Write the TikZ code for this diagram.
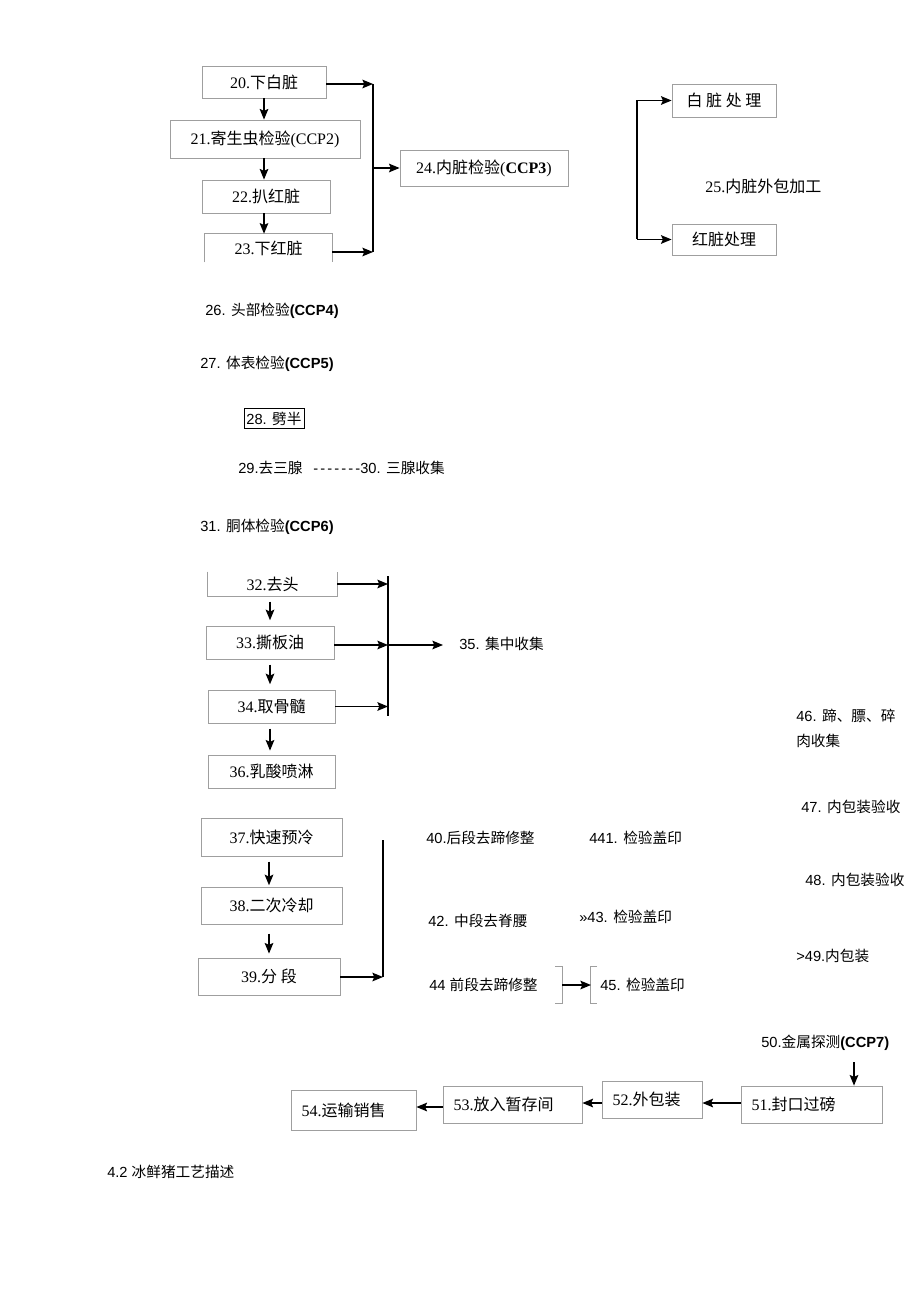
\documentclass[tikz,border=0pt]{standalone}
\usepackage{fontspec}
\setmainfont{Liberation Serif}
\newfontfamily\cjk{Noto Sans CJK SC}
\newfontfamily\lsans{Liberation Sans}
\newcommand\zh[1]{{\cjk #1}}
\newcommand\dsh{-\kern1.6pt}
\usetikzlibrary{arrows.meta}
\begin{document}
\begin{tikzpicture}[x=0.75pt,y=-0.75pt,
  bx/.style={draw=gray!75, line width=0.6pt, inner sep=0pt, font=\fontsize{12}{14}\selectfont},
  bxn/.style={inner sep=0pt, font=\fontsize{12}{14}\selectfont},
  bxl/.style={draw=gray!75, line width=0.6pt, inner xsep=8pt, inner ysep=0pt, align=left, font=\fontsize{12}{14}\selectfont},
  lab/.style={font=\lsans\fontsize{11}{13}\selectfont, inner sep=0pt, anchor=west},
  slab/.style={font=\fontsize{12}{14}\selectfont, inner sep=0pt, anchor=west},
  arr/.style={-{Stealth[length=8pt,width=6.5pt,inset=1.5pt]}, line width=1.1pt},
  ln/.style={line width=1.1pt},
  open/.style={draw=gray!75, line width=0.6pt}]
\useasboundingbox[fill=white] (0,0) rectangle (920,1301);

% ---- group 20-24
\node[bx, minimum width=93pt, minimum height=24pt] (b20) at (264,82) {20.\zh{下白脏}};
\node[bx, minimum width=142.5pt, minimum height=28.5pt] (b21) at (265,139) {21.\zh{寄生虫检验}(CCP2)};
\node[bx, minimum width=96pt, minimum height=24.75pt] (b22) at (266,196.5) {22.\zh{扒红脏}};
\node[bxn, minimum width=95.25pt, minimum height=21pt] (b23) at (268.5,248) {23.\zh{下红脏}};
\draw[open] (b23.south west) -- (b23.north west) -- (b23.north east) -- (b23.south east);
\node[bx, minimum width=126pt, minimum height=27pt] (b24) at (484,168) {24.\zh{内脏检验}(\textbf{CCP3})};

\draw[arr] (b20.south) -- (b20.south |- b21.north);
\draw[arr] (b21.south -| b20.south) -- (b20.south |- b22.north);
\draw[arr] (b22.south -| b20.south) -- (b20.south |- b23.north);

\coordinate (j1t) at (373,84);
\coordinate (j1b) at (373,252);
\coordinate (j1m) at (373,168);
\draw[ln] (j1t) -- (j1b);
\draw[arr] (b20.east |- j1t) -- (j1t);
\draw[arr] (b23.east |- j1b) -- (j1b);
\draw[arr] (j1m) -- (b24.west);

% ---- group 25
\node[bx, minimum width=78pt, minimum height=24.75pt] (bw) at (724,100.5) {\zh{白 脏 处 理}};
\node[bx, minimum width=78pt, minimum height=23.25pt] (br) at (724,239.5) {\zh{红脏处理}};
\coordinate (k1) at (637,100.5);
\coordinate (k2) at (637,239.5);
\draw[ln] (k1) -- (k2);
\draw[arr] (k1) -- (bw.west);
\draw[arr] (k2) -- (br.west);
\node[slab] (n25) at (705,186) {25.\zh{内脏外包加工}};

% ---- labels 26-31
\node[lab] (n26) at (205,311) {26. \zh{头部检验}\textbf{(CCP4)}};
\node[lab] (n27) at (200,364) {27. \zh{体表检验}\textbf{(CCP5)}};
\node[draw=black, line width=0.5pt, inner sep=0pt, minimum width=45pt, minimum height=15pt, font=\lsans\fontsize{11}{13}\selectfont] (n28) at (274,418.5) {28. \zh{劈半}};
\node[lab] (n29) at (238,468) {29.\zh{去三腺}\hspace{8pt}\dsh\dsh\dsh\dsh\dsh\dsh-30. \zh{三腺收集}};
\node[lab] (n31) at (200,527) {31. \zh{胴体检验}\textbf{(CCP6)}};

% ---- group 32-36
\node[bxn, minimum width=96.75pt, minimum height=18pt] (b32) at (272.5,584) {32.\zh{去头}};
\draw[open] (b32.north west) -- (b32.south west) -- (b32.south east) -- (b32.north east);
\node[bx, minimum width=96pt, minimum height=24.75pt] (b33) at (270,642.5) {33.\zh{撕板油}};
\node[bx, minimum width=95.25pt, minimum height=24.75pt] (b34) at (271.5,706.5) {34.\zh{取骨髓}};
\node[bx, minimum width=95.25pt, minimum height=24.75pt] (b36) at (271.5,771.5) {36.\zh{乳酸喷淋}};
\coordinate (a32) at (270,584);
\draw[arr, shorten <=4pt, shorten >=4pt] (a32 |- b32.south) -- (a32 |- b33.north);
\draw[arr, shorten <=4pt, shorten >=4pt] (a32 |- b33.south) -- (a32 |- b34.north);
\draw[arr, shorten <=4pt, shorten >=3pt] (a32 |- b34.south) -- (a32 |- b36.north);

\coordinate (j2t) at (388,576);
\coordinate (j2b) at (388,716);
\coordinate (j2m) at (388,645);
\draw[ln] (j2t) -- (j2b);
\draw[arr] (b32.east) -- (b32.east -| j2t);
\draw[arr] (b33.east |- j2m) -- (j2m);
\draw[arr] (b34.east) -- (b34.east -| j2t);
\node[lab] (n35) at (459,644) {35. \zh{集中收集}};
\coordinate (e35) at (443,645);
\draw[arr] (j2m) -- (e35);

% ---- group 37-39
\node[bx, minimum width=105.75pt, minimum height=28.5pt] (b37) at (271.5,837) {37.\zh{快速预冷}};
\node[bx, minimum width=105.75pt, minimum height=27.75pt] (b38) at (271.5,905.5) {38.\zh{二次冷却}};
\node[bx, minimum width=106.5pt, minimum height=27.75pt] (b39) at (269,976.5) {39.\zh{分 段}};
\coordinate (a37) at (269,837);
\draw[arr, shorten <=4pt, shorten >=1pt] (a37 |- b37.south) -- (a37 |- b38.north);
\draw[arr, shorten <=7pt, shorten >=3pt] (a37 |- b38.south) -- (a37 |- b39.north);
\coordinate (j3t) at (383,840);
\coordinate (j3b) at (383,977);
\draw[ln] (j3t) -- (j3b);
\draw[arr] (b39.east |- j3b) -- (j3b);

% ---- labels 40-45
\node[lab] (n40) at (426,838) {40.\zh{后段去蹄修整}};
\node[lab] (n41) at (589,838) {441. \zh{检验盖印}};
\node[lab] (n42) at (428,921) {42. \zh{中段去脊腰}};
\node[lab] (n43) at (579,917) {»43. \zh{检验盖印}};
\node[lab] (n44) at (429,985) {44 \zh{前段去蹄修整}};
\node[lab] (n45) at (600,985) {45. \zh{检验盖印}};
\coordinate (q1) at (562,985);
\coordinate (q2) at (591,985);
\draw[gray!75, line width=0.7pt] (555,966) -- (562,966) -- (562,1003) -- (555,1003);
\draw[gray!75, line width=0.7pt] (597,966) -- (590,966) -- (590,1003) -- (597,1003);
\draw[arr] (q1) -- (q2);

% ---- labels 46-49
\node[lab] (n46a) at (796,716) {46. \zh{蹄、膘、碎}};
\node[lab] (n46b) at (796,741) {\zh{肉收集}};
\node[lab] (n47) at (801,807) {47. \zh{内包装验收}};
\node[lab] (n48) at (805,880) {48. \zh{内包装验收}};
\node[lab] (n49) at (796,956) {>49.\zh{内包装}};

% ---- bottom chain
\node[lab] (n50) at (761,1043) {50.\zh{金属探测}\textbf{(CCP7)}};
\node[bxl, text width=89.75pt, minimum height=27.75pt] (b51) at (811.5,1104.5) {51.\zh{封口过磅}};
\node[bxl, text width=59pt, minimum height=27.75pt] (b52) at (652,1099.5) {52.\zh{外包装}};
\node[bxl, text width=88.25pt, minimum height=27.75pt] (b53) at (512.5,1104.5) {53.\zh{放入暂存间}};
\node[bxl, text width=77.75pt, minimum height=30pt] (b54) at (353.5,1110) {54.\zh{运输销售}};
\coordinate (t50) at (854,1062);
\draw[arr] (t50) -- (t50 |- b51.north);
\draw[arr] (b51.west |- 0,1103) -- (b52.east |- 0,1103);
\draw[arr] (b52.west |- 0,1103) -- (b53.east |- 0,1103);
\draw[arr] (b53.west |- 0,1107) -- (b54.east |- 0,1107);

\node[lab] (n42t) at (107,1172) {4.2 \zh{冰鲜猪工艺描述}};
\end{tikzpicture}
\end{document}
